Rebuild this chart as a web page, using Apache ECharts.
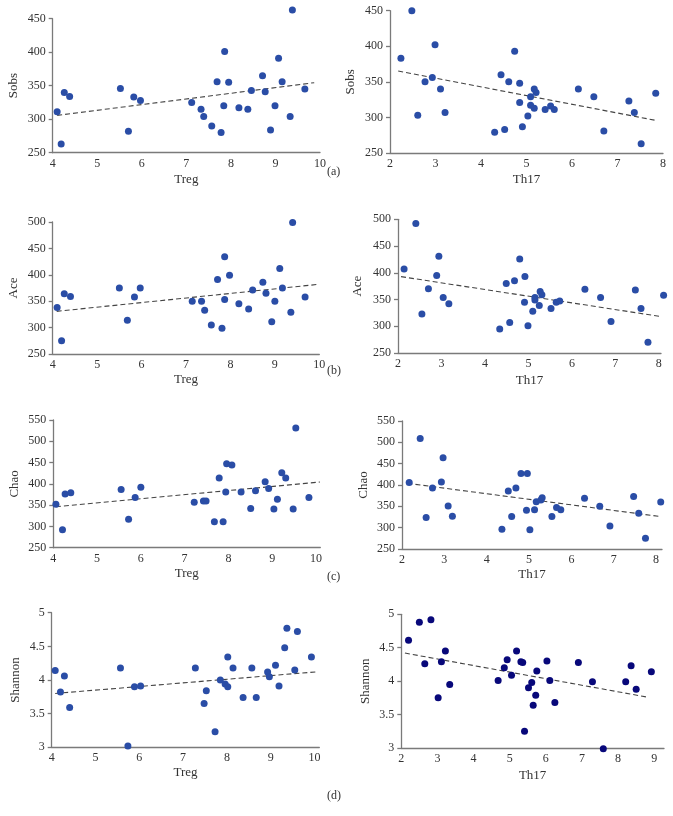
<!DOCTYPE html>
<html><head><meta charset="utf-8">
<script src="https://cdn.jsdelivr.net/npm/echarts@6/dist/echarts.min.js"></script>
<style>html,body{margin:0;padding:0;background:#fff}#c{width:673px;height:816px}</style>
</head><body><div id="c"></div>
<script>
// (a) Sobs
const tregSobsX = [4.10,4.19,4.26,4.38,5.52,5.70,5.82,5.97,7.12,7.33,7.39,7.57,7.69,7.78,7.86,7.84,7.95,8.18,8.38,8.46,8.71,8.77,8.89,8.99,9.07,9.15,9.33,9.38,9.66];
const tregSobsY = [311,263,340,334,346,282,333,328,325,315,304,290,356,280,401,320,355,317,315,343,365,341,284,320,391,356,304,463,345];
const th17SobsX = [2.24,2.48,2.61,2.77,2.93,2.99,3.11,3.21,4.30,4.44,4.52,4.61,4.74,4.85,4.85,4.91,5.03,5.09,5.09,5.17,5.17,5.21,5.41,5.53,5.61,6.14,6.48,6.70,7.25,7.37,7.52,7.84];
const th17SobsY = [383,450,303,350,356,402,340,307,279,360,283,350,393,348,321,287,302,329,317,340,313,335,311,316,311,340,329,281,323,307,263,334];
// (b) Ace
const tregAceX = [4.10,4.20,4.26,4.40,5.50,5.68,5.84,5.97,7.14,7.35,7.42,7.57,7.71,7.81,7.87,7.87,7.98,8.19,8.41,8.50,8.73,8.80,8.93,9.00,9.11,9.17,9.36,9.40,9.68];
const tregAceY = [338,275,364,359,375,314,358,375,350,350,333,305,391,299,434,353,399,345,335,371,386,365,311,350,412,375,329,499,358];
const th17AceX = [2.14,2.41,2.55,2.70,2.89,2.94,3.04,3.17,4.34,4.49,4.57,4.68,4.80,4.91,4.92,4.99,5.10,5.15,5.15,5.25,5.27,5.31,5.52,5.64,5.72,6.30,6.66,6.90,7.46,7.59,7.75,8.11];
const th17AceY = [407,492,323,370,395,431,354,342,295,380,307,385,426,345,393,301,328,354,349,339,365,359,333,345,347,369,354,309,368,333,270,358];
// (c) Chao
const tregChaoX = [4.06,4.21,4.27,4.40,5.55,5.72,5.87,6.00,7.22,7.43,7.49,7.68,7.79,7.88,7.94,7.96,8.08,8.29,8.51,8.62,8.84,8.92,9.04,9.12,9.22,9.31,9.48,9.54,9.84];
const tregChaoY = [352,292,376,379,387,317,368,392,357,360,360,311,414,311,381,447,444,381,342,384,405,389,341,364,426,414,341,531,368];
const th17ChaoX = [2.17,2.43,2.57,2.72,2.93,2.97,3.09,3.19,4.36,4.51,4.59,4.69,4.81,4.94,4.96,5.02,5.13,5.17,5.28,5.31,5.54,5.65,5.75,6.31,6.67,6.91,7.47,7.59,7.75,8.11];
const th17ChaoY = [406,509,324,393,407,464,351,327,296,386,326,393,427,341,427,295,342,361,365,370,326,347,342,369,350,304,373,334,275,360];
// (d) Shannon
const tregShanX = [4.08,4.20,4.29,4.41,5.57,5.74,5.89,6.03,7.28,7.48,7.53,7.73,7.85,7.96,8.02,8.02,8.14,8.37,8.57,8.67,8.93,8.97,9.11,9.19,9.32,9.37,9.55,9.61,9.93];
const tregShanY = [4.14,3.82,4.06,3.59,4.18,3.02,3.90,3.91,4.18,3.65,3.84,3.23,4.00,3.94,3.90,4.34,4.18,3.74,4.18,3.74,4.12,4.05,4.22,3.91,4.48,4.77,4.15,4.72,4.34];
const th17ShanX = [2.20,2.50,2.65,2.82,3.02,3.11,3.22,3.34,4.68,4.85,4.93,5.05,5.19,5.31,5.36,5.41,5.52,5.61,5.65,5.72,5.75,6.03,6.11,6.25,6.90,7.29,7.59,8.21,8.36,8.50,8.92];
const th17ShanY = [4.61,4.88,4.26,4.92,3.75,4.29,4.45,3.95,4.01,4.20,4.32,4.09,4.45,4.29,4.28,3.25,3.90,3.98,3.64,3.79,4.15,4.30,4.01,3.68,4.28,3.99,2.99,3.99,4.23,3.88,4.14];
// fitted trend line endpoints [x1, y1, x2, y2]
const trendTregSobs = [4.10,305.7,9.87,354.5];
const trendTh17Sobs = [2.18,365.2,7.84,295.9];
const trendTregAce = [4.09,330.8,9.98,381.9];
const trendTh17Ace = [2.07,392.8,8.06,318.0];
const trendTregChao = [4.06,346.3,10.09,404.3];
const trendTh17Chao = [2.13,403.9,8.12,325.8];
const trendTregShan = [4.08,3.80,10.02,4.12];
const trendTh17Shan = [2.10,4.42,8.82,3.76];
// tick labels
const tregTicks = [4,5,6,7,8,9,10];
const th17Ticks8 = [2,3,4,5,6,7,8];
const th17Ticks9 = [2,3,4,5,6,7,8,9];
const panelLabels = ['(a)','(b)','(c)','(d)'];

const zip = (xs, ys) => xs.map((x, i) => [x, ys[i]]);
const FONT = 'Liberation Serif';
const BLUE = '#2a4da6';
const NAVY = '#08087a';

const panels = [
  {g:{left:52.7,top:18.7,width:267.3,height:134}, xmin:4, xmax:10, ticks:tregTicks, ymin:250, ymax:450, yint:50, xname:'Treg', yname:'Sobs', ygap:33, xgap:20, x:tregSobsX, y:tregSobsY, t:trendTregSobs, c:BLUE},
  {g:{left:390,top:10.7,width:273,height:142.3}, xmin:2, xmax:8, ticks:th17Ticks8, ymin:250, ymax:450, yint:50, xname:'Th17', yname:'Sobs', ygap:33, xgap:20, x:th17SobsX, y:th17SobsY, t:trendTh17Sobs, c:BLUE},
  {g:{left:52.7,top:222,width:266.6,height:132}, xmin:4, xmax:10, ticks:tregTicks, ymin:250, ymax:500, yint:50, xname:'Treg', yname:'Ace', ygap:33, xgap:19, x:tregAceX, y:tregAceY, t:trendTregAce, c:BLUE},
  {g:{left:398,top:219.3,width:263,height:133.7}, xmin:2, xmax:8.05, ticks:th17Ticks8, ymin:250, ymax:500, yint:50, xname:'Th17', yname:'Ace', ygap:34, xgap:21, x:th17AceX, y:th17AceY, t:trendTh17Ace, c:BLUE},
  {g:{left:53.3,top:420,width:267,height:127.7}, xmin:4, xmax:10.1, ticks:tregTicks, ymin:250, ymax:550, yint:50, xname:'Treg', yname:'Chao', ygap:32, xgap:19, x:tregChaoX, y:tregChaoY, t:trendTregChao, c:BLUE},
  {g:{left:402,top:421,width:260,height:128}, xmin:2, xmax:8.14, ticks:th17Ticks8, ymin:250, ymax:550, yint:50, xname:'Th17', yname:'Chao', ygap:32, xgap:19, x:th17ChaoX, y:th17ChaoY, t:trendTh17Chao, c:BLUE},
  {g:{left:51.7,top:612.7,width:267.6,height:134.6}, xmin:4, xmax:10.11, ticks:tregTicks, ymin:3, ymax:5, yint:0.5, xname:'Treg', yname:'Shannon', ygap:30, xgap:19, x:tregShanX, y:tregShanY, t:trendTregShan, c:BLUE},
  {g:{left:401.3,top:614.3,width:262.7,height:133.7}, xmin:2, xmax:9.27, ticks:th17Ticks9, ymin:3, ymax:5, yint:0.5, xname:'Th17', yname:'Shannon', ygap:29, xgap:21, x:th17ShanX, y:th17ShanY, t:trendTh17Shan, c:NAVY}
];

const axisLineStyle = {color:'#7a7a7a', width:1.3};
const labelStyle = {fontFamily:FONT, fontSize:12, color:'#333'};

const option = {
  backgroundColor:'#fff',
  animation:false,
  grid: panels.map(p => Object.assign({containLabel:false}, p.g)),
  xAxis: panels.map((p, i) => ({
    type:'value', gridIndex:i, min:p.xmin, max:p.xmax,
    name:p.xname, nameLocation:'middle', nameGap:p.xgap,
    nameTextStyle:{fontFamily:FONT, fontSize:13, color:'#333'},
    axisLine:{show:true, lineStyle:axisLineStyle},
    axisTick:{show:false},
    splitLine:{show:false},
    axisLabel:Object.assign({margin:5, customValues:p.ticks, showMinLabel:true, showMaxLabel:true}, labelStyle)
  })),
  yAxis: panels.map((p, i) => ({
    type:'value', gridIndex:i, min:p.ymin, max:p.ymax, interval:p.yint,
    name:p.yname, nameLocation:'middle', nameGap:p.ygap, nameRotate:90,
    nameTextStyle:{fontFamily:FONT, fontSize:13, color:'#333'},
    axisLine:{show:true, lineStyle:axisLineStyle},
    axisTick:{show:true, length:4, inside:false, lineStyle:axisLineStyle},
    splitLine:{show:false},
    axisLabel:Object.assign({margin:7}, labelStyle)
  })),
  series: [].concat(...panels.map((p, i) => [
    {type:'scatter', xAxisIndex:i, yAxisIndex:i, data:zip(p.x, p.y), symbolSize:7, clip:false,
     itemStyle:{color:p.c, opacity:1}, z:3},
    {type:'line', xAxisIndex:i, yAxisIndex:i, data:[[p.t[0],p.t[1]],[p.t[2],p.t[3]]], symbol:'none', clip:false,
     lineStyle:{color:'#444', width:1.1, type:[5,3]}, z:2, silent:true}
  ])),
  graphic: [
    {type:'text', left:327, top:166, style:{text:panelLabels[0], font:'12px "Liberation Serif"', fill:'#333'}},
    {type:'text', left:327, top:365, style:{text:panelLabels[1], font:'12px "Liberation Serif"', fill:'#333'}},
    {type:'text', left:327, top:571, style:{text:panelLabels[2], font:'12px "Liberation Serif"', fill:'#333'}},
    {type:'text', left:327, top:790, style:{text:panelLabels[3], font:'12px "Liberation Serif"', fill:'#333'}}
  ]
};
const chart = echarts.init(document.getElementById('c'), null, {renderer:'canvas'});
chart.setOption(option);
</script></body></html>
